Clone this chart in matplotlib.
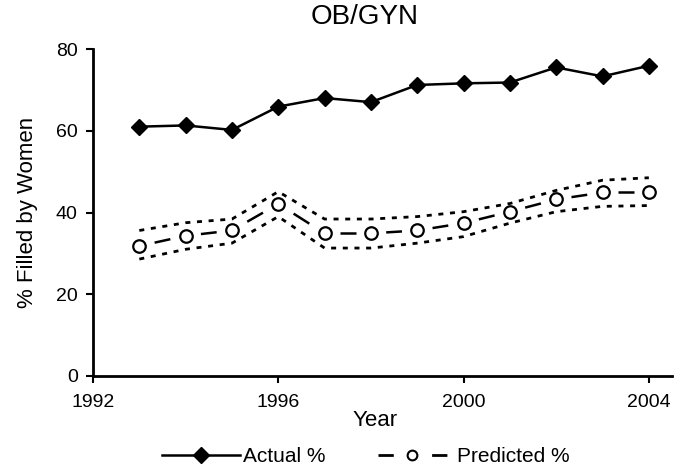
import matplotlib
matplotlib.use("Agg")
import matplotlib.pyplot as plt
from matplotlib.lines import Line2D

years = [1993, 1994, 1995, 1996, 1997, 1998, 1999, 2000, 2001, 2002, 2003, 2004]
actual = [61.0, 61.3, 60.2, 65.9, 68.0, 67.0, 71.2, 71.6, 71.8, 75.5, 73.3, 75.9]
predicted = [31.8, 34.3, 35.6, 42.1, 34.9, 34.9, 35.6, 37.4, 40.2, 43.2, 44.9, 44.9]
upper_ci = [35.6, 37.5, 38.4, 45.1, 38.4, 38.4, 39.0, 40.2, 42.2, 45.4, 47.9, 48.5]
lower_ci = [28.6, 31.0, 32.5, 39.0, 31.3, 31.3, 32.5, 34.1, 37.4, 40.2, 41.5, 41.7]
xticks = [1992, 1996, 2000, 2004]
yticks = [0, 20, 40, 60, 80]

plt.rcParams['font.family'] = ['Liberation Sans', 'DejaVu Sans']

W, H = 686, 470
fig = plt.figure(figsize=(W / 100, H / 100), dpi=100)
ax = fig.add_axes([93 / W, 1 - 376 / H, (672 - 93) / W, (376 - 49) / H])

dot = (0, (1.8, 2.4))
ax.plot(years, upper_ci, color='black', linestyle=dot, linewidth=2.0)
ax.plot(years, lower_ci, color='black', linestyle=dot, linewidth=2.0)

ax.plot(years, actual, color='black', linewidth=1.8, marker='D', markersize=8.5)

# predicted: short dash centred between consecutive points
for i in range(len(years) - 1):
    x0, x1 = years[i], years[i + 1]
    y0, y1 = predicted[i], predicted[i + 1]
    a, b = 0.33, 0.67
    ax.plot([x0 + a * (x1 - x0), x0 + b * (x1 - x0)],
            [y0 + a * (y1 - y0), y0 + b * (y1 - y0)],
            color='black', linewidth=1.8, solid_capstyle='butt')
ax.plot(years, predicted, linestyle='none', marker='o', markersize=9,
        markerfacecolor='white', markeredgecolor='black', markeredgewidth=1.6)

ax.set_xlim(1992, 2004.5)
ax.set_ylim(0, 80)
ax.set_xticks(xticks)
ax.set_yticks(yticks)
ax.tick_params(labelsize=14, width=1.5, length=5, direction='out')
ax.tick_params(axis='x', pad=8)
ax.tick_params(axis='y', pad=6)
for s in ['top', 'right']:
    ax.spines[s].set_visible(False)
for s in ['left', 'bottom']:
    ax.spines[s].set_linewidth(2.0)

fig.text(365 / W, 1 - 17 / H, 'OB/GYN', fontsize=20, ha='center', va='center')
fig.text(375 / W, 1 - 421 / H, 'Year', fontsize=16, ha='center', va='center')
fig.text(28 / W, 1 - 212 / H, '% Filled by Women', fontsize=16, rotation=90,
         ha='center', va='center')

h1 = Line2D([], [], color='black', linewidth=1.8, marker='D', markersize=8)
h2 = Line2D([], [], color='black', linewidth=2.0, linestyle=(0, (5.5, 13.8)),
            marker='o', markersize=7, markerfacecolor='white',
            markeredgewidth=1.5)
fig.legend([h1], ['Actual %'], loc='center left',
           bbox_to_anchor=(162 / W, 1 - 457 / H), frameon=False, fontsize=15,
           handlelength=3.75, handletextpad=0.15, borderpad=0, borderaxespad=0)
fig.legend([h2], ['Predicted %'], loc='center left',
           bbox_to_anchor=(378 / W, 1 - 457 / H), frameon=False, fontsize=15,
           handlelength=3.3, handletextpad=0.5, borderpad=0, borderaxespad=0)

fig.savefig('out.png', dpi=100)
